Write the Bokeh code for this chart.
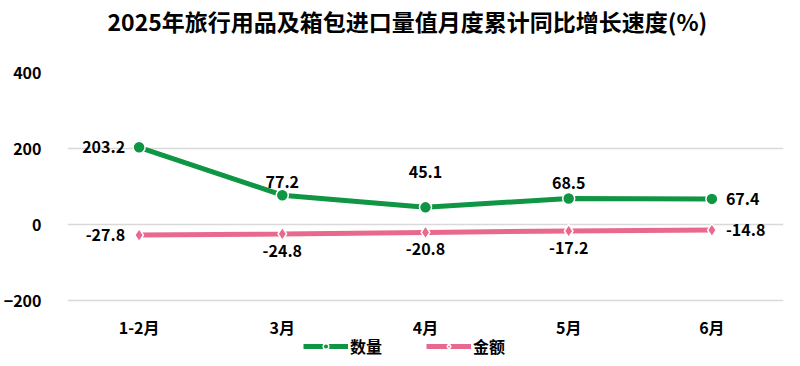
from bokeh.plotting import figure
from bokeh.models import Legend, LegendItem, FactorRange, Range1d, ColumnDataSource, Title
from bokeh.core.properties import value
from bokeh.embed import file_html
from bokeh.resources import INLINE

title_text = "2025年旅行用品及箱包进口量值月度累计同比增长速度(%)"
months = ["1-2月", "3月", "4月", "5月", "6月"]
quantity = [203.2, 77.2, 45.1, 68.5, 67.4]
amount = [-27.8, -24.8, -20.8, -17.2, -14.8]
y_ticks = [-200, 0, 200, 400]

FONT = "Noto Sans CJK SC"
GREEN = "#0f9543"
PINK = "#e8698d"

# the frame reaches below the -200 gridline so that the legend can sit inside it
GRID_H = 228                      # pixels between 400 and -200
FRAME_H = 290
y_top = y_ticks[-1]
y_span = y_ticks[-1] - y_ticks[0]
y_start = y_top - FRAME_H * y_span / GRID_H

p = figure(frame_width=716, frame_height=FRAME_H, x_range=FactorRange(*months),
           y_range=Range1d(y_start, y_top),
           output_backend="svg", toolbar_location=None,
           min_border_left=60, min_border_right=4, min_border_top=72, min_border_bottom=0)
p.outline_line_color = None
p.background_fill_color = "white"

spacer = Title(text=" ", text_font_size="10px", standoff=20)
p.add_layout(spacer, "above")
t = Title(text=title_text, align="left", offset=40, vertical_align="top", standoff=0,
          text_font=FONT, text_font_size="23px", text_font_style="bold", text_color="#000000")
p.add_layout(t, "above")

p.xgrid.grid_line_color = None
p.ygrid.grid_line_color = "#d9d9d9"
p.ygrid.grid_line_width = 1.5
p.yaxis.ticker = y_ticks
for ax in (p.xaxis[0], p.yaxis[0]):
    ax.axis_line_color = None
    ax.major_tick_line_color = None
    ax.minor_tick_line_color = None
    ax.major_label_text_font = FONT
    ax.major_label_text_font_size = "16px"
    ax.major_label_text_font_style = "bold"
    ax.major_label_text_color = "#000000"
    ax.major_label_text_line_height = 1.0
p.yaxis.major_label_standoff = 20
p.xaxis.major_label_standoff = 8
p.xaxis.fixed_location = y_ticks[0]

src = ColumnDataSource(dict(x=months, q=quantity, a=amount,
                            ql=[f"{v:.1f}" for v in quantity],
                            al=[f"{v:.1f}" for v in amount]))

ql = p.line("x", "q", source=src, line_color=GREEN, line_width=5)
qm = p.scatter("x", "q", source=src, marker="circle", size=12, fill_color=GREEN,
               line_color="white", line_width=1.5)
al = p.line("x", "a", source=src, line_color=PINK, line_width=5)
am = p.scatter("x", "a", source=src, marker="diamond", size=13, fill_color=PINK,
               line_color="white", line_width=1.5)

# data labels
q_align = ["right", "center", "center", "center", "left"]
q_xoff = [-14, 0, 0, 0, 14]
q_yoff = [0, -13, -35, -15, 0]
a_align = ["right", "center", "center", "center", "left"]
a_xoff = [-14, 0, 0, 0, 14]
a_yoff = [0, 17, 17, 17, 0]
for i in range(len(months)):
    p.text(x=[months[i]], y=[quantity[i]], text=[src.data["ql"][i]], text_align=q_align[i],
           text_baseline="middle", x_offset=q_xoff[i], y_offset=q_yoff[i],
           text_font=value(FONT), text_font_size="16px", text_font_style="bold", text_color="#000000")
    p.text(x=[months[i]], y=[amount[i]], text=[src.data["al"][i]], text_align=a_align[i],
           text_baseline="middle", x_offset=a_xoff[i], y_offset=a_yoff[i],
           text_font=value(FONT), text_font_size="16px", text_font_style="bold", text_color="#000000")

legend = Legend(items=[LegendItem(label="数量", renderers=[ql, qm]),
                       LegendItem(label="金额", renderers=[al, am])],
                orientation="horizontal", location=(236, 4),
                label_text_font=FONT, label_text_font_size="16px", label_text_font_style="bold",
                label_text_color="#000000", label_text_line_height=1.0,
                border_line_color=None, background_fill_alpha=0,
                glyph_width=45, glyph_height=14, label_height=14, spacing=44, padding=0, margin=0,
                label_standoff=2)
p.add_layout(legend, "center")

open("out.html", "w").write(file_html(p, INLINE))
